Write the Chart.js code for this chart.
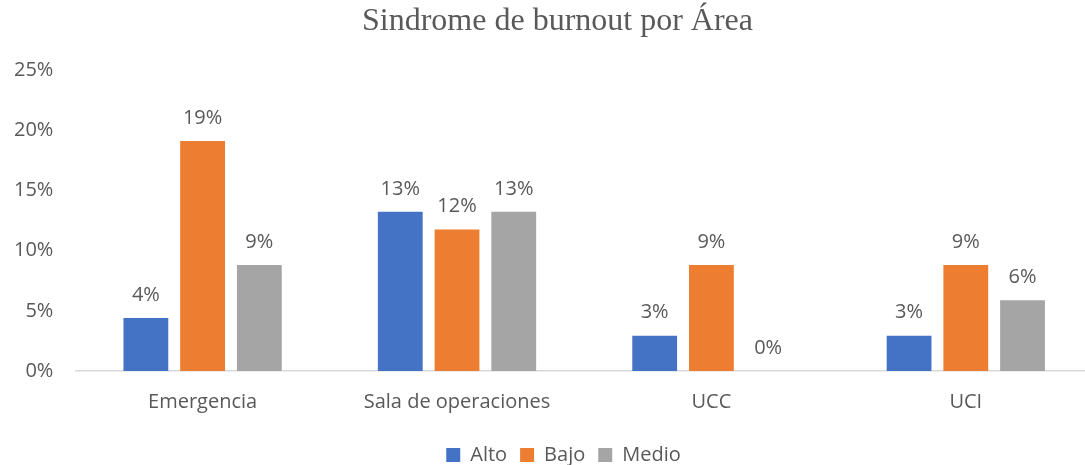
<!DOCTYPE html>
<html>
<head>
<meta charset="utf-8">
<script src="https://cdn.jsdelivr.net/npm/chart.js@4"></script>
<style>
  body { margin: 0; background: #fff; }
  canvas { display: block; }
</style>
</head>
<body>
<canvas id="burnout-chart" width="1085" height="465"></canvas>
<script>
const areas = ['Emergencia', 'Sala de operaciones', 'UCC', 'UCI'];
const alto = [4.41, 13.24, 2.94, 2.94];
const bajo = [19.12, 11.76, 8.82, 8.82];
const medio = [8.82, 13.24, 0, 5.88];
const yTicks = [0, 5, 10, 15, 20, 25];

const textColor = '#595959';
const sans = '"Open Sans", sans-serif';

// labels on top of each bar (rounded percent)
const barLabels = {
  id: 'barLabels',
  afterDatasetsDraw(chart) {
    const ctx = chart.ctx;
    ctx.save();
    ctx.font = '20px ' + sans;
    ctx.fillStyle = textColor;
    ctx.textAlign = 'center';
    ctx.textBaseline = 'bottom';
    chart.data.datasets.forEach((ds, i) => {
      chart.getDatasetMeta(i).data.forEach((bar, j) => {
        ctx.fillText(Math.round(ds.data[j]) + '%', bar.x, bar.y - 13);
      });
    });
    ctx.restore();
  }
};

// the plot area in the original runs a bit past the right edge,
// title and legend sit slightly right of centre
const stretchRight = {
  id: 'stretchRight',
  afterLayout(chart) {
    const x = chart.scales.x;
    x.right += 8;
    x.width += 8;
    chart.chartArea.right += 8;
    chart.chartArea.width += 8;
    x.configure();
    if (chart.titleBlock) chart.titleBlock.left += 30;
    if (chart.legend) {
      chart.legend.left += 21;
      chart.legend.right += 21;
    }
  }
};

new Chart(document.getElementById('burnout-chart'), {
  type: 'bar',
  data: {
    labels: areas,
    datasets: [
      { label: 'Alto', data: alto, backgroundColor: '#4472C4' },
      { label: 'Bajo', data: bajo, backgroundColor: '#ED7D31' },
      { label: 'Medio', data: medio, backgroundColor: '#A5A5A5' }
    ]
  },
  options: {
    responsive: false,
    animation: false,
    categoryPercentage: 0.669,
    barPercentage: 0.79,
    layout: { padding: { left: 0, right: 0, top: 2, bottom: -10 } },
    plugins: {
      title: {
        display: true,
        text: 'Sindrome de burnout por Área',
        color: textColor,
        font: { family: '"Liberation Serif", serif', size: 32, weight: 'normal' },
        padding: { top: 0, bottom: 30 }
      },
      legend: {
        position: 'bottom',
        labels: {
          color: textColor,
          font: { family: sans, size: 20 },
          boxWidth: 14,
          boxHeight: 14,
          padding: 13
        }
      },
      tooltip: { enabled: false }
    },
    scales: {
      x: {
        grid: { display: false },
        border: { display: true, color: '#D9D9D9', width: 1.5 },
        ticks: { color: textColor, font: { family: sans, size: 20 }, padding: 11 },
        afterFit: axis => { axis.height += 7; }
      },
      y: {
        min: 0,
        max: 25,
        afterBuildTicks: axis => { axis.ticks = yTicks.map(v => ({ value: v })); },
        grid: { display: false },
        border: { display: false },
        ticks: {
          color: textColor,
          font: { family: sans, size: 20 },
          padding: 14,
          callback: v => v + '%'
        }
      }
    }
  },
  plugins: [barLabels, stretchRight]
});
</script>
</body>
</html>
